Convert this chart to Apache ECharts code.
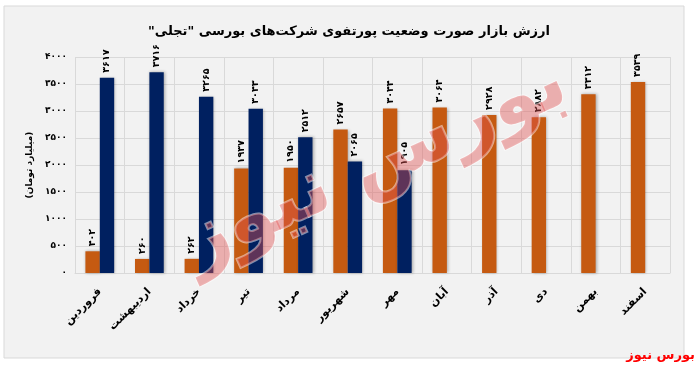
<!DOCTYPE html>
<html><head><meta charset="utf-8">
<script src="https://cdn.jsdelivr.net/npm/echarts@6/dist/echarts.min.js"></script>
<style>html,body{margin:0;padding:0;background:#fff}#c{width:698px;height:368px}</style>
</head><body><div id="c"></div>
<script>
const months = ['فروردین','اردیبهشت','خرداد','تیر','مرداد','شهریور','مهر','آبان','آذر','دی','بهمن','اسفند'];
const seriesOrange = [402,260,262,1937,1950,2657,3044,3064,2928,2882,3312,3539];
const seriesNavy = [3617,3716,3265,3043,2512,2065,1905,null,null,null,null,null];
const yTicks = [0,500,1000,1500,2000,2500,3000,3500,4000];
const titleText = 'ارزش بازار صورت وضعیت پورتفوی شرکت‌های بورسی "تجلی"';
const yName = '(میلیارد تومان)';
const brand = 'بورس نیوز';

const RLM = '\u200F';
const fa = s => String(s).replace(/[0-9]/g, d => '۰۱۲۳۴۵۶۷۸۹'[d]);
const F = '"DejaVu Sans", sans-serif';
const chart = echarts.init(document.getElementById('c'));
const lbl = {show:true, position:'top', rotate:90, align:'left', verticalAlign:'middle', distance:5,
  fontFamily:F, fontSize:9.5, fontWeight:'bold', color:'#000', formatter:p => fa(p.value)};
chart.setOption({
  animation:false,
  backgroundColor:'#fff',
  graphic:[
    {type:'rect', shape:{x:4,y:6,width:680,height:352}, style:{fill:'#f2f2f2', stroke:'#d9d9d9', lineWidth:1}, z:-10},
    {type:'text', x:375, y:165, rotation:0.42, style:{text:RLM+brand+RLM, align:'center', verticalAlign:'middle', font:'bold 78px "DejaVu Sans"', fill:'rgba(225,80,80,0.42)', stroke:'rgba(255,255,255,0.5)', lineWidth:2}, z:100},
    {type:'text', right:3, top:349, style:{text:RLM+brand+RLM, font:'bold 13px "DejaVu Sans"', fill:'#ff0000'}, z:100}
  ],
  title:{text:RLM+titleText+RLM, left:'center', top:20, textStyle:{fontFamily:F, fontSize:13, fontWeight:'bold', color:'#000'}},
  grid:{left:75, right:28, top:57, bottom:95},
  xAxis:{type:'category', data:months,
    axisLine:{lineStyle:{color:'#d9d9d9'}}, axisTick:{show:false},
    splitLine:{show:true, lineStyle:{color:'#d9d9d9'}},
    axisLabel:{rotate:45, interval:0, fontFamily:F, fontSize:11, fontWeight:'bold', color:'#000', margin:17}},
  yAxis:{type:'value', min:yTicks[0], max:yTicks[yTicks.length-1], interval:500,
    name:yName, nameLocation:'middle', nameGap:38, nameRotate:90,
    nameTextStyle:{fontFamily:F, fontSize:9, fontWeight:'bold', color:'#000'},
    axisLine:{show:false}, axisTick:{show:false},
    splitLine:{lineStyle:{color:'#d9d9d9'}},
    axisLabel:{fontFamily:F, fontSize:9, fontWeight:'bold', color:'#000', margin:8, formatter:v => fa(v)}},
  series:[
    {type:'bar', data:seriesOrange, barWidth:'29%', barGap:'0%',
      itemStyle:{color:'#c55a11', shadowColor:'rgba(0,0,0,0.3)', shadowBlur:3, shadowOffsetX:1}, label:lbl},
    {type:'bar', data:seriesNavy, barWidth:'29%',
      itemStyle:{color:'#002060', shadowColor:'rgba(0,0,0,0.3)', shadowBlur:3, shadowOffsetX:1}, label:lbl}
  ]
});
</script></body></html>
